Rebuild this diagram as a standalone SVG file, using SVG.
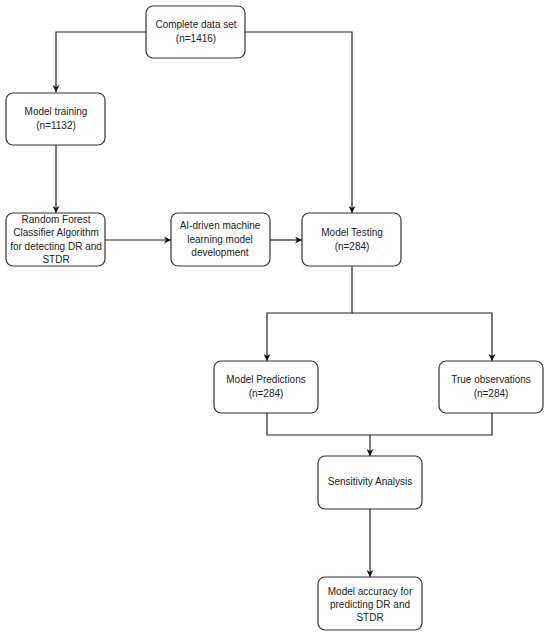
<svg xmlns="http://www.w3.org/2000/svg" width="550" height="637" viewBox="0 0 550 637">
<style>
.box{fill:#fff;stroke:#333;stroke-width:1.2}
.t{font-family:"Liberation Sans",Arial,sans-serif;font-size:10px;fill:#222;text-anchor:middle}
.c{fill:none;stroke:#222;stroke-width:1.2}
</style>
<defs>
<marker id="ah" viewBox="0 0 10 10" refX="10" refY="5" markerWidth="7" markerHeight="7" markerUnits="userSpaceOnUse" orient="auto">
<path d="M0,0 L10,5 L0,10 L3,5 Z" fill="#111"/>
</marker>
</defs>
<rect width="550" height="637" fill="#fff"/>
<g id="connectors">
<path class="c" d="M146,32 H56 V92" marker-end="url(#ah)"/>
<path class="c" d="M245,32 H352 V213" marker-end="url(#ah)"/>
<path class="c" d="M56,145 V213" marker-end="url(#ah)"/>
<path class="c" d="M105,240 H171" marker-end="url(#ah)"/>
<path class="c" d="M270,240 H302" marker-end="url(#ah)"/>
<path class="c" d="M352,266 V313 H267 V361" marker-end="url(#ah)"/>
<path class="c" d="M352,313 H492 V361" marker-end="url(#ah)"/>
<path class="c" d="M267,413 V435 H492 V413"/>
<path class="c" d="M370,435 V456" marker-end="url(#ah)"/>
<path class="c" d="M370,509 V577" marker-end="url(#ah)"/>
</g>
<g id="complete">
<rect class="box" x="146" y="6" width="99" height="52" rx="7"/>
<text class="t" x="196" y="28">Complete data set</text>
<text class="t" x="196" y="42">(n=1416)</text>
</g>
<g id="training">
<rect class="box" x="6" y="93" width="99" height="52" rx="7"/>
<text class="t" x="56" y="115">Model training</text>
<text class="t" x="56" y="129">(n=1132)</text>
</g>
<g id="rf">
<rect class="box" x="6" y="213" width="99" height="53" rx="7"/>
<text class="t" x="56" y="223">Random Forest</text>
<text class="t" x="56" y="236">Classifier Algorithm</text>
<text class="t" x="56" y="250">for detecting DR and</text>
<text class="t" x="56" y="263">STDR</text>
</g>
<g id="ai">
<rect class="box" x="171" y="213" width="99" height="53" rx="7"/>
<text class="t" x="220" y="229">AI-driven machine</text>
<text class="t" x="220" y="243">learning model</text>
<text class="t" x="220" y="256">development</text>
</g>
<g id="testing">
<rect class="box" x="302" y="213" width="99" height="53" rx="7"/>
<text class="t" x="352" y="236">Model Testing</text>
<text class="t" x="352" y="250">(n=284)</text>
</g>
<g id="predictions">
<rect class="box" x="214" y="361" width="104" height="52" rx="7"/>
<text class="t" x="266" y="383">Model Predictions</text>
<text class="t" x="266" y="397">(n=284)</text>
</g>
<g id="observations">
<rect class="box" x="439" y="361" width="104" height="52" rx="7"/>
<text class="t" x="491" y="383">True observations</text>
<text class="t" x="491" y="397">(n=284)</text>
</g>
<g id="sensitivity">
<rect class="box" x="318" y="456" width="104" height="53" rx="7"/>
<text class="t" x="370" y="485">Sensitivity Analysis</text>
</g>
<g id="accuracy">
<rect class="box" x="318" y="577" width="104" height="53" rx="7"/>
<text class="t" x="370" y="595">Model accuracy for</text>
<text class="t" x="370" y="608">predicting DR and</text>
<text class="t" x="370" y="621">STDR</text>
</g>
</svg>
